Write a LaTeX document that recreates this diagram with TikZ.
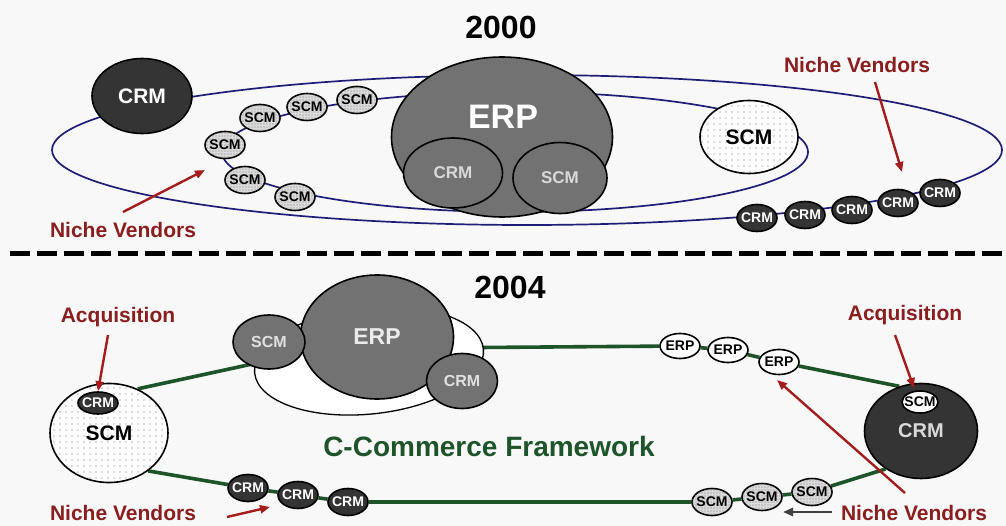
\documentclass[tikz,border=0pt]{standalone}
\usepackage{fontspec}
\setmainfont{Liberation Sans}
\usetikzlibrary{shapes.geometric,arrows.meta,patterns.meta}
\pgfdeclarelayer{paper}
\pgfdeclarelayer{bg}
\pgfsetlayers{paper,bg,main}

\definecolor{nicheRed}{RGB}{138,30,30}
\definecolor{arrowRed}{RGB}{165,28,28}
\definecolor{ringBlue}{RGB}{30,30,120}
\definecolor{frameGreen}{RGB}{30,84,42}
\definecolor{darkFill}{RGB}{52,52,52}
\definecolor{midFill}{RGB}{114,114,114}
\definecolor{paperTone}{RGB}{248,248,248}

\newcommand{\fs}[1]{\fontsize{#1}{#1}\selectfont\bfseries}

\tikzset{
  blob/.style={ellipse, draw=black, line width=1.6pt, inner sep=0pt,
    execute at begin node={\hbox to 0pt\bgroup\hss},
    execute at end node={\hss\egroup}},
  dark/.style={blob, fill=darkFill, text=white},
  mid/.style={blob, fill=midFill, text=black!12},
  pale/.style={blob, fill=white,
    postaction={pattern={Dots[distance=6pt,radius=0.65pt]}, pattern color=black!60},
    text=black},
  speck/.style={blob, fill=black!14,
    postaction={pattern={Dots[distance=3pt,radius=0.55pt]}, pattern color=black!50},
    text=black},
  plain/.style={blob, fill=white, text=black},
  chip/.style={minimum width=40pt, minimum height=27pt, font=\fs{14}},
  yeartitle/.style={font=\fs{32}, text=black},
  callout/.style={font=\fs{21}, text=nicheRed},
  redarrow/.style={draw=arrowRed, line width=2.4pt, -{Triangle[length=10pt,width=8pt]}},
  greyarrow/.style={draw=black!75, line width=2.4pt, -{Triangle[length=10pt,width=8pt]}},
  ring/.style={draw=ringBlue, line width=1.7pt},
  frame/.style={draw=frameGreen, line width=3.6pt},
}

\begin{document}
\begin{tikzpicture}[x=1pt,y=-1pt]
\begin{pgfonlayer}{paper}
  \fill[paperTone] (0,0) rectangle (1006,526);
\end{pgfonlayer}
\useasboundingbox (0,0) rectangle (1006,526);

% ---------------- 2000 ----------------
\node[yeartitle] (y2000) at (501,27) {2000};

\begin{pgfonlayer}{bg}
  \draw[ring] (527,150) ellipse [x radius=475, y radius=75];
  \draw[ring] (515,152) ellipse [x radius=293, y radius=60];
\end{pgfonlayer}

\node[dark, minimum width=100pt, minimum height=75pt, font=\fs{21}] (tcrm) at (142,96) {CRM};

\node[mid, minimum width=221pt, minimum height=160pt] (terp) at (502,137) {};
\node[font=\fs{34}, text=white] (terpt) at (503,117) {ERP};
\node[mid, minimum width=99pt, minimum height=70pt, font=\fs{17}, text=black!15] (tcrmi) at (453,173) {CRM};
\node[mid, minimum width=94pt, minimum height=71pt, font=\fs{17}, text=black!15] (tscmi) at (560,178) {SCM};

\node[pale, minimum width=98pt, minimum height=73pt, font=\fs{21}] (tscm) at (749,137) {SCM};

% niche SCM vendors on the inner ring
\node[speck, chip] (ts1) at (357,100) {SCM};
\node[speck, chip] (ts2) at (307,107) {SCM};
\node[speck, chip] (ts3) at (260,118) {SCM};
\node[speck, chip] (ts4) at (225,145) {SCM};
\node[speck, chip] (ts5) at (245,180) {SCM};
\node[speck, chip] (ts6) at (295,197) {SCM};

% niche CRM vendors on the outer ring
\node[dark, chip] (tc1) at (757,218) {CRM};
\node[dark, chip] (tc2) at (805,215) {CRM};
\node[dark, chip] (tc3) at (852,210) {CRM};
\node[dark, chip] (tc4) at (898,203) {CRM};
\node[dark, chip] (tc5) at (940,193) {CRM};

\node[callout] (nvTL) at (123,230) {Niche Vendors};
\node[callout] (nvTR) at (857,65) {Niche Vendors};
\coordinate (aTLs) at (123,212);
\coordinate (aTLe) at (205,170);
\coordinate (aTRs) at (875,82);
\coordinate (aTRe) at (902,172);
\draw[redarrow] (aTLs) -- (aTLe);
\draw[redarrow] (aTRs) -- (aTRe);

% separator
\draw[line width=5pt, dash pattern=on 20pt off 7pt] (10,254) -- (1006,254);

% ---------------- 2004 ----------------
\node[yeartitle] (y2004) at (510,287) {2004};

\node[plain, line width=1.3pt, minimum width=230pt, minimum height=106pt, rotate=6] (gback) at (369,361) {};
\node[mid, minimum width=153pt, minimum height=124pt, font=\fs{23}, text=black!8] (gerp) at (377,337) {ERP};
\node[mid, minimum width=72pt, minimum height=54pt, font=\fs{16}, text=black!12] (gscm) at (269,342) {SCM};
\node[mid, minimum width=71pt, minimum height=55pt, font=\fs{16}, text=black!12] (gcrm) at (462,381) {CRM};

\node[pale, minimum width=118pt, minimum height=99pt, font=\fs{21}] (lscm) at (109,433) {SCM};
\node[dark, minimum width=40pt, minimum height=22pt, font=\fs{14}] (lcrm) at (98,403) {CRM};

\node[dark, minimum width=113pt, minimum height=95pt, font=\fs{20}, text=black!15] (rcrm) at (921,431) {CRM};
\node[plain, minimum width=36pt, minimum height=22pt, font=\fs{14}] (rscm) at (920,402) {SCM};

\node[plain, chip, minimum height=25pt, font=\fs{14}] (be1) at (680,346) {ERP};
\node[plain, chip, minimum height=25pt, font=\fs{14}] (be2) at (728,350) {ERP};
\node[plain, chip, minimum height=25pt, font=\fs{14}] (be3) at (779,362) {ERP};

\node[speck, chip] (bs1) at (812,492) {SCM};
\node[speck, chip] (bs2) at (762,497) {SCM};
\node[speck, chip] (bs3) at (712,502) {SCM};

\node[dark, chip] (bc1) at (248,488) {CRM};
\node[dark, chip] (bc2) at (298,495) {CRM};
\node[dark, chip] (bc3) at (348,502) {CRM};

\begin{pgfonlayer}{bg}
  \draw[frame] (lscm.57) -- (gerp.center) -- (gerp.-8) -- (be1) -- (be2) -- (be3) -- (rcrm.116);
  \draw[frame] (rcrm.227) -- (bs1) -- (bs2) -- (bs3) -- (bc3) -- (bc2) -- (bc1) -- (lscm.-44);
\end{pgfonlayer}

\node[font=\fs{28}, text=frameGreen] (cframe) at (489,446) {C-Commerce Framework};

\node[callout] (acqL) at (118,317) {Acquisition};
\node[callout] (acqR) at (905,315) {Acquisition};
\node[callout] (nvBL) at (123,513) {Niche Vendors};
\node[callout] (nvBR) at (914,513) {Niche Vendors};

\coordinate (aALs) at (108,335);
\coordinate (aARs) at (895,335);
\coordinate (aARe) at (914,388);
\coordinate (aBLs) at (227,517);
\coordinate (aBLe) at (270,507);
\coordinate (aBRs) at (905,493);
\coordinate (aBRe) at (777,380);
\coordinate (aBKs) at (832,512);
\coordinate (aBKe) at (783,512);

\draw[redarrow] (aALs) -- (lcrm.north);
\draw[redarrow] (aARs) -- (aARe);
\draw[redarrow] (aBLs) -- (aBLe);
\draw[redarrow] (aBRs) -- (aBRe);
\draw[greyarrow] (aBKs) -- (aBKe);
\end{tikzpicture}
\end{document}
